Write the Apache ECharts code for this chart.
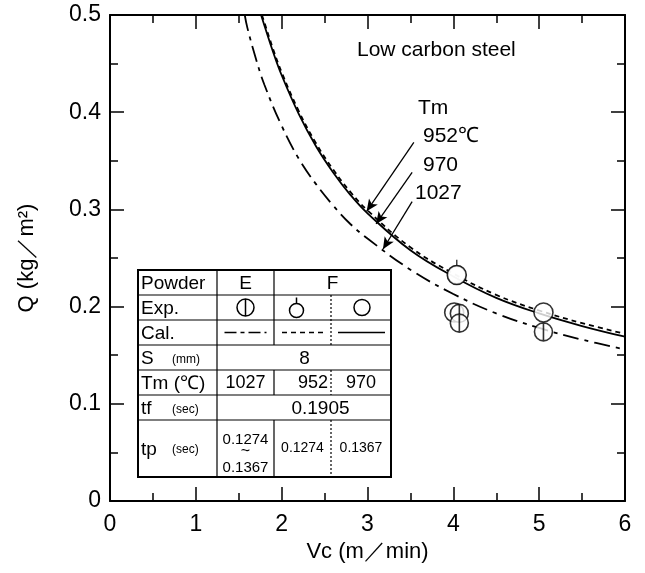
<!DOCTYPE html>
<html><head><meta charset="utf-8">
<script src="https://cdn.jsdelivr.net/npm/echarts@6/dist/echarts.min.js"></script>
<style>html,body{margin:0;padding:0;background:#fff}#c{width:645px;height:573px}</style>
</head><body><div id="c"></div>
<script>
// ---- data ----
const xTicks = ['0','1','2','3','4','5','6'];
const yTicks = ['0','0.1','0.2','0.3','0.4','0.5'];

// Calculated curves (Vc, Q)
const vc952 = [1.77,1.8,1.9,2.0,2.2,2.4,2.6,2.8,3.0,3.5,4.0,4.5,5.0,5.5,6.0];
const q952  = [0.500,0.492,0.465,0.441,0.401,0.368,0.341,0.318,0.299,0.261,0.234,0.212,0.196,0.183,0.172];
const vc970 = [1.76,1.8,1.9,2.0,2.2,2.4,2.6,2.8,3.0,3.5,4.0,4.5,5.0,5.5,6.0];
const q970  = [0.500,0.489,0.462,0.438,0.398,0.365,0.338,0.315,0.296,0.258,0.231,0.209,0.193,0.180,0.169];
const vc1027 = [1.57,1.6,1.7,1.8,2.0,2.2,2.4,2.6,2.8,3.0,3.5,4.0,4.5,5.0,5.5,6.0];
const q1027  = [0.500,0.487,0.455,0.428,0.386,0.352,0.326,0.304,0.285,0.270,0.238,0.213,0.193,0.178,0.166,0.156];

// Experimental points
const expE_vc = [4.07,4.07,5.05];
const expE_q  = [0.193,0.183,0.174];
const expF952_vc = [4.04];
const expF952_q  = [0.2325];
const expF970_vc = [4.04,4.01,5.05];
const expF970_q  = [0.2325,0.194,0.194];

// Annotation labels
const curveLabels = ['Tm','952℃','970','1027'];
const arrow952 = [[3.54,0.369],[2.99,0.298]];
const arrow970 = [[3.52,0.338],[3.10,0.285]];
const arrow1027 = [[3.52,0.308],[3.18,0.259]];

const zip = (a,b)=>a.map((v,i)=>[v,b[i]]);
const FONT = '"Liberation Sans", Arial, sans-serif';

const symE = 'path://M10,0 A10,10 0 1,1 10,20 A10,10 0 1,1 10,0 Z M10,0 L10,20';
const symF952 = 'path://M10,7 A10,10 0 1,1 10,27 A10,10 0 1,1 10,7 Z M10,7 L10,0';

const chart = echarts.init(document.getElementById('c'), null, {renderer:'canvas'});

const axisCommon = {
  type:'value', splitLine:{show:false},
  axisLine:{show:true, onZero:false, lineStyle:{color:'#000', width:2}},
  axisTick:{show:true, inside:true, length:14, lineStyle:{color:'#000', width:1.5}},
  minorTick:{show:true, splitNumber:2, length:8, lineStyle:{color:'#000', width:1.5}},
};

function arrowML(a){
  return [{coord:a[0], symbol:'none'},{coord:a[1], symbol:'arrow'}];
}

// table geometry (annotation box)
const TX = [138,217,274,331,391];
const TY = [270,295,320,345,370,395,420,477];
const g = [];
const L = (x1,y1,x2,y2,extra,z)=>g.push({type:'line', z:z||101, shape:{x1,y1,x2,y2}, style:Object.assign({stroke:'#000', lineWidth:1.2}, extra||{})});
const T = (text,x,y,size,align)=>g.push({type:'text', z:102, style:{text, x, y, font:size+'px '+FONT, fill:'#000', textAlign:align||'center', textVerticalAlign:'middle', align:align||'center', verticalAlign:'middle'}});
g.push({type:'rect', z:100, shape:{x:TX[0],y:TY[0],width:TX[4]-TX[0],height:TY[7]-TY[0]}, style:{fill:'#fff', stroke:'#000', lineWidth:2}});
for (let i=1;i<7;i++) L(TX[0],TY[i],TX[4],TY[i]);
L(TX[1],TY[0],TX[1],TY[7]);
[[0,3],[4,5],[6,7]].forEach(r=>L(TX[2],TY[r[0]],TX[2],TY[r[1]]));
[[1,3],[4,5],[6,7]].forEach(r=>L(TX[3],TY[r[0]],TX[3],TY[r[1]],{lineDash:[2,2]}));
const cy = i=>(TY[i]+TY[i+1])/2;
const cE = (TX[1]+TX[2])/2, cF = (TX[2]+TX[4])/2, cF1=(TX[2]+TX[3])/2, cF2=(TX[3]+TX[4])/2;
T('Powder',TX[0]+3,cy(0)+1,19,'left'); T('E',cE,cy(0)+1,19); T('F',cF,cy(0)+1,19);
T('Exp.',TX[0]+3,cy(1)+1,19,'left');
g.push({type:'circle', z:102, shape:{cx:cE,cy:cy(1),r:8.5}, style:{fill:'#fff',stroke:'#000',lineWidth:1.5}});
L(cE,cy(1)-8.5,cE,cy(1)+8.5,{lineWidth:1.5},104);
g.push({type:'circle', z:102, shape:{cx:cF1-6,cy:cy(1)+3,r:7}, style:{fill:'#fff',stroke:'#000',lineWidth:1.5}});
L(cF1-6,cy(1)-4,cF1-6,cy(1)-10,{lineWidth:1.5},104);
g.push({type:'circle', z:102, shape:{cx:cF2+1,cy:cy(1),r:8}, style:{fill:'#fff',stroke:'#000',lineWidth:1.5}});
T('Cal.',TX[0]+3,cy(2)+1,19,'left');
L(cE-21,cy(2),cE+21,cy(2),{lineWidth:1.5, lineDash:[12,4,4,4]},104);
L(TX[2]+8,cy(2),TX[3]-6,cy(2),{lineWidth:1.5, lineDash:[5,4]},104);
L(TX[3]+7,cy(2),TX[4]-6,cy(2),{lineWidth:1.5},104);
T('S',TX[0]+3,cy(3)+1,19,'left'); T('(mm)',TX[0]+34,cy(3)+2,12,'left'); T('8',cF-28,cy(3)+1,19);
T('Tm (℃)',TX[0]+3,cy(4)+1,19,'left'); T('1027',cE,cy(4)+1,18); T('952',TX[3]-3,cy(4)+1,18,'right'); T('970',cF2,cy(4)+1,18);
T('tf',TX[0]+3,cy(5)+1,19,'left'); T('(sec)',TX[0]+34,cy(5)+2,12,'left'); T('0.1905',cF-12,cy(5)+1,19);
T('tp',TX[0]+3,cy(6)+1,19,'left'); T('(sec)',TX[0]+34,cy(6)+1,12,'left');
T('0.1274',cE,cy(6)-9,15); T('~',cE,cy(6)+3,16); T('0.1367',cE,cy(6)+19,15);
T('0.1274',cF1,cy(6),14); T('0.1367',cF2,cy(6),14);
// texts in plot
T('Low carbon steel',357,50,21,'left');
T(curveLabels[0],418,108,21,'left');
T(curveLabels[1],423,136,21,'left');
T(curveLabels[2],423,165,21,'left');
T(curveLabels[3],415,193,21,'left');

chart.setOption({
  animation:false,
  backgroundColor:'#fff',
  textStyle:{fontFamily:FONT},
  grid:{left:110, right:20, top:15, bottom:72, containLabel:false},
  xAxis:[
    Object.assign({}, axisCommon, {position:'bottom', min:0, max:6, interval:1,
      axisLabel:{margin:12, fontSize:23, color:'#000', fontFamily:FONT, formatter:(v)=>xTicks[Math.round(v)]},
      name:'Vc (m／min)', nameLocation:'middle', nameGap:40, nameTextStyle:{fontSize:22, color:'#000', fontFamily:FONT}}),
    Object.assign({}, axisCommon, {position:'top', min:0, max:6, interval:1, axisLabel:{show:false}})
  ],
  yAxis:[
    Object.assign({}, axisCommon, {position:'left', min:0, max:0.5, interval:0.1,
      axisLabel:{margin:9, fontSize:23, color:'#000', fontFamily:FONT, formatter:(v)=>yTicks[Math.round(v*10)]},
      name:'Q (kg／m²)', nameLocation:'middle', nameGap:72, nameRotate:90, nameTextStyle:{fontSize:22, color:'#000', fontFamily:FONT}}),
    Object.assign({}, axisCommon, {position:'right', min:0, max:0.5, interval:0.1, axisLabel:{show:false}})
  ],
  series:[
    {name:'952', type:'line', data:zip(vc952,q952), smooth:0.4, showSymbol:false, symbol:'none', lineStyle:{color:'#000', width:1.8, type:[5,4]}, z:2},
    {name:'970', type:'line', data:zip(vc970,q970), smooth:0.4, showSymbol:false, symbol:'none', lineStyle:{color:'#000', width:1.8}, z:2,
      markLine:{silent:true, symbolSize:[8,12], label:{show:false}, lineStyle:{color:'#000', width:1.3, type:'solid'},
        data:[arrowML(arrow952), arrowML(arrow970), arrowML(arrow1027)]}},
    {name:'1027', type:'line', data:zip(vc1027,q1027), smooth:0.4, showSymbol:false, symbol:'none', lineStyle:{color:'#000', width:1.8, type:[16,6,4,6]}, z:2},
    {name:'F952', type:'scatter', data:zip(expF952_vc,expF952_q), symbol:symF952, symbolSize:[18,24.3], symbolOffset:[0,-3.15],
      itemStyle:{color:'#fff', borderColor:'#000', borderWidth:1.6}, z:5},
    {name:'F970', type:'scatter', data:zip(expF970_vc,expF970_q), symbol:'circle', symbolSize:19,
      itemStyle:{color:'#fff', borderColor:'#000', borderWidth:1.6}, z:6},
    {name:'E', type:'scatter', data:zip(expE_vc,expE_q), symbol:symE, symbolSize:18,
      itemStyle:{color:'#fff', borderColor:'#000', borderWidth:1.6}, z:7},
  ],
  graphic:g
});
</script>
</body></html>
